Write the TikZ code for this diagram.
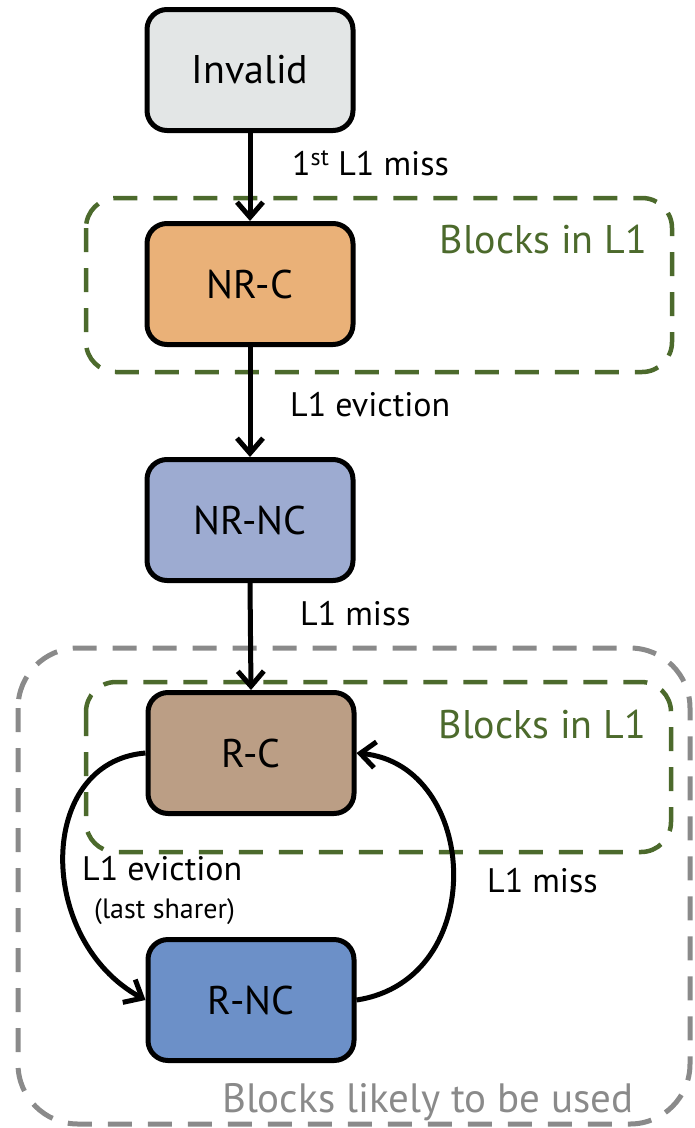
\documentclass[tikz,border=0pt]{standalone}
\usepackage{fontspec}
\setmainfont{PT Sans}
\usetikzlibrary{arrows.meta}
\definecolor{invfill}{HTML}{E3E6E6}
\definecolor{nrcfill}{HTML}{EAB178}
\definecolor{nrncfill}{HTML}{9DABD1}
\definecolor{rcfill}{HTML}{BB9E85}
\definecolor{rncfill}{HTML}{6C90C8}
\definecolor{grn}{HTML}{4C6A2C}
\definecolor{gry}{HTML}{8A8A8A}
\tikzset{
  state/.style={draw=black, line width=5pt, rounded corners=20pt, minimum width=206pt, minimum height=121pt, inner sep=0pt, font=\fontsize{40}{48}\selectfont},
  arr/.style={line width=5pt, -{Straight Barb[length=15pt,width=26pt,line width=5pt]}},
  lbl/.style={inner sep=0pt, font=\fontsize{34}{40}\selectfont},
  small/.style={inner sep=0pt, font=\fontsize{28}{32}\selectfont},
  grnbox/.style={draw=grn, line width=4.5pt, dash pattern=on 24pt off 16pt, rounded corners=30pt},
  grybox/.style={draw=gry, line width=5pt, dash pattern=on 24pt off 16pt, rounded corners=60pt},
  grntxt/.style={inner sep=0pt, text=grn, font=\fontsize{40}{48}\selectfont},
  grytxt/.style={inner sep=0pt, text=gry, font=\fontsize{41}{48}\selectfont},
}
\begin{document}
\begin{tikzpicture}[x=1pt,y=-1pt]
\useasboundingbox (0,0) rectangle (695,1128);
% dashed groups
\draw[grybox] (18,648) rectangle (690,1124);
\draw[grnbox] (86,198) rectangle (672,372);
\draw[grnbox] (86,682) rectangle (671,852);
\node[grntxt, anchor=base east] (g1) at (647,253) {Blocks in L1};
\node[grntxt, anchor=base east] (g2) at (646,738) {Blocks in L1};
\node[grytxt, anchor=base east] (g3) at (634,1112) {Blocks likely to be used};
% states
\node[state, fill=invfill] (inv) at (250,70) {Invalid};
\node[state, fill=nrcfill] (nrc) at (250,284) {NR-C};
\node[state, fill=nrncfill] (nrnc) at (250,520) {NR-NC};
\node[state, fill=rcfill] (rc) at (251,753) {R-C};
\node[state, fill=rncfill] (rnc) at (251,1000) {R-NC};
% transitions
\draw[arr] (inv) -- (nrc);
\draw[arr] (nrc) -- (nrnc);
\draw[arr] (nrnc.south) -- (rc.north);
\draw[arr] (rc.west) .. controls (36,762) and (36,940) .. (rnc.west);
\draw[arr] (rnc.east) .. controls (490,980) and (480,765) .. (rc.east);
% labels
\node[lbl, anchor=base west] (l1) at (292,175) {1\textsuperscript{st} L1 miss};
\node[lbl, anchor=base west] (l2) at (290,416) {L1 eviction};
\node[lbl, anchor=base west] (l3) at (300,625) {L1 miss};
\node[lbl, anchor=base west] (l4) at (82,880) {L1 eviction};
\node[small, anchor=base west] (l5) at (94,918) {(last sharer)};
\node[lbl, anchor=base west] (l6) at (487,892) {L1 miss};
\end{tikzpicture}
\end{document}
